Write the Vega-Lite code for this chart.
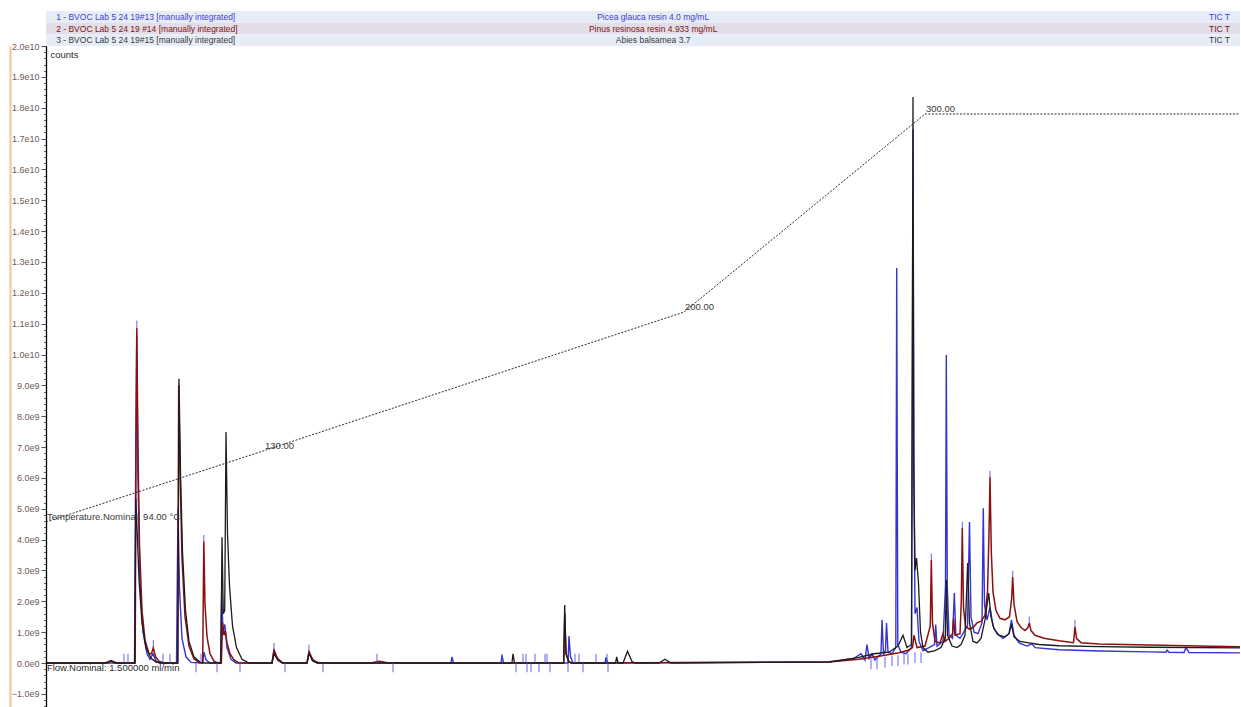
{
  "$schema": "https://vega.github.io/schema/vega-lite/v6.json",
  "autosize": {"type": "pad"},
  "padding": {"left": 10, "top": 11, "right": 0, "bottom": 0},
  "background": "white",
  "bounds": "flush",
  "spacing": 0,
  "config": {"view": {"stroke": null}, "font": "Liberation Sans"},
  "datasets": {
    "header": [
      {"row": 1, "run": "1 - BVOC Lab 5 24 19#13 [manually integrated]", "sample": "Picea glauca resin 4.0 mg/mL", "trace": "TIC T"},
      {"row": 2, "run": "2 - BVOC Lab 5 24 19 #14 [manually integrated]", "sample": "Pinus resinosa resin 4.933 mg/mL", "trace": "TIC T"},
      {"row": 3, "run": "3 - BVOC Lab 5 24 19#15 [manually integrated]", "sample": "Abies balsamea 3.7", "trace": "TIC T"}
    ],
    "picea": [
      {"t":0,"counts":0},{"t":2.367,"counts":0},{"t":2.95,"counts":0},{"t":2.983,"counts":5.5e9},{"t":3.023,"counts":10.6e9},{"t":3.067,"counts":6.0e9},{"t":3.133,"counts":2.6e9},{"t":3.233,"counts":1.0e9},{"t":3.367,"counts":0.3e9},{"t":3.467,"counts":0.12e9},{"t":3.567,"counts":0.3e9},{"t":3.667,"counts":0.06e9},{"t":3.8,"counts":0},
      {"t":4.35,"counts":0},{"t":4.4,"counts":5.0e9},{"t":4.45,"counts":2.4e9},{"t":4.533,"counts":0.8e9},{"t":4.667,"counts":0.2e9},{"t":4.833,"counts":0.02e9},
      {"t":5.217,"counts":0},{"t":5.267,"counts":0.35e9},{"t":5.333,"counts":0.1e9},{"t":5.467,"counts":0},
      {"t":5.817,"counts":0},{"t":5.857,"counts":2.27e9},{"t":5.9,"counts":1.0e9},{"t":5.96,"counts":1.25e9},{"t":6.033,"counts":0.5e9},{"t":6.167,"counts":0.12e9},{"t":6.333,"counts":0},
      {"t":7.533,"counts":0},{"t":7.6,"counts":0.45e9},{"t":7.7,"counts":0.15e9},{"t":7.867,"counts":0},
      {"t":8.7,"counts":0},{"t":8.767,"counts":0.4e9},{"t":8.867,"counts":0.1e9},{"t":9.033,"counts":0},
      {"t":13.5,"counts":0},{"t":13.533,"counts":0.2e9},{"t":13.583,"counts":0},
      {"t":15.167,"counts":0},{"t":15.2,"counts":0.25e9},{"t":15.25,"counts":0},
      {"t":17.4,"counts":0},{"t":17.433,"counts":0.87e9},{"t":17.483,"counts":0.2e9},{"t":17.567,"counts":0},
      {"t":18.633,"counts":0},{"t":18.667,"counts":0.18e9},{"t":18.717,"counts":0},
      {"t":26.1,"counts":0.04e9},{"t":26.933,"counts":0.15e9},{"t":27.167,"counts":0.3e9},{"t":27.3,"counts":0.1e9},{"t":27.367,"counts":0.6e9},{"t":27.433,"counts":0.15e9},{"t":27.533,"counts":0.3e9},{"t":27.633,"counts":0.1e9},
      {"t":27.833,"counts":0.3e9},{"t":27.867,"counts":1.4e9},{"t":27.917,"counts":0.3e9},{"t":27.983,"counts":0.4e9},{"t":28.017,"counts":1.3e9},{"t":28.067,"counts":0.35e9},{"t":28.2,"counts":0.3e9},
      {"t":28.327,"counts":0.5e9},{"t":28.357,"counts":12.8e9},{"t":28.393,"counts":0.6e9},{"t":28.5,"counts":0.35e9},{"t":28.667,"counts":0.3e9},
      {"t":28.85,"counts":0.5e9},{"t":28.877,"counts":9.0e9},{"t":28.9,"counts":17.3e9},{"t":28.927,"counts":7.0e9},{"t":28.967,"counts":1.6e9},{"t":29.033,"counts":1.8e9},{"t":29.1,"counts":0.7e9},{"t":29.233,"counts":0.4e9},
      {"t":29.433,"counts":0.5e9},{"t":29.617,"counts":0.6e9},{"t":29.657,"counts":1.25e9},{"t":29.7,"counts":0.55e9},{"t":29.9,"counts":0.7e9},
      {"t":29.983,"counts":2.5e9},{"t":30.01,"counts":9.98e9},{"t":30.043,"counts":2.5e9},{"t":30.1,"counts":0.9e9},{"t":30.217,"counts":0.8e9},{"t":30.277,"counts":2.27e9},{"t":30.327,"counts":0.9e9},{"t":30.467,"counts":0.8e9},
      {"t":30.717,"counts":1.2e9},{"t":30.783,"counts":4.57e9},{"t":30.833,"counts":1.5e9},{"t":30.933,"counts":1.0e9},{"t":31.067,"counts":0.95e9},{"t":31.2,"counts":1.3e9},{"t":31.243,"counts":5.02e9},{"t":31.283,"counts":1.9e9},
      {"t":31.367,"counts":1.4e9},{"t":31.467,"counts":1.8e9},{"t":31.567,"counts":1.2e9},{"t":31.7,"counts":0.95e9},{"t":31.9,"counts":0.8e9},{"t":32.1,"counts":0.95e9},{"t":32.183,"counts":1.4e9},{"t":32.267,"counts":0.9e9},
      {"t":32.433,"counts":0.65e9},{"t":32.7,"counts":0.55e9},{"t":32.867,"counts":0.62e9},{"t":32.967,"counts":0.5e9},{"t":33.767,"counts":0.43e9},{"t":35.1,"counts":0.39e9},{"t":36.767,"counts":0.36e9},
      {"t":37.333,"counts":0.35e9},{"t":37.367,"counts":0.42e9},{"t":37.433,"counts":0.35e9},{"t":37.933,"counts":0.34e9},{"t":38.0,"counts":0.5e9},{"t":38.1,"counts":0.34e9},{"t":39.8,"counts":0.33e9}
    ],
    "abies": [
      {"t":0,"counts":0},{"t":2.033,"counts":0},{"t":2.167,"counts":0.06e9},{"t":2.3,"counts":0},
      {"t":2.96,"counts":0},{"t":2.993,"counts":5.35e9},{"t":3.05,"counts":4.0e9},{"t":3.1,"counts":2.7e9},{"t":3.2,"counts":1.3e9},{"t":3.333,"counts":0.5e9},{"t":3.5,"counts":0.15e9},{"t":3.667,"counts":0.03e9},{"t":3.833,"counts":0},
      {"t":4.393,"counts":0},{"t":4.433,"counts":9.21e9},{"t":4.483,"counts":6.2e9},{"t":4.55,"counts":3.6e9},{"t":4.65,"counts":1.7e9},{"t":4.767,"counts":0.7e9},{"t":4.933,"counts":0.2e9},{"t":5.133,"counts":0.03e9},{"t":5.3,"counts":0},
      {"t":5.827,"counts":0},{"t":5.867,"counts":4.08e9},{"t":5.91,"counts":1.6e9},{"t":5.957,"counts":1.7e9},{"t":6.0,"counts":7.49e9},{"t":6.05,"counts":4.2e9},{"t":6.117,"counts":2.5e9},{"t":6.217,"counts":1.2e9},{"t":6.35,"counts":0.5e9},{"t":6.533,"counts":0.12e9},{"t":6.767,"counts":0},
      {"t":7.533,"counts":0},{"t":7.6,"counts":0.3e9},{"t":7.733,"counts":0.08e9},{"t":7.9,"counts":0},
      {"t":8.7,"counts":0},{"t":8.767,"counts":0.3e9},{"t":8.9,"counts":0.06e9},{"t":9.067,"counts":0},
      {"t":15.533,"counts":0},{"t":15.567,"counts":0.3e9},{"t":15.617,"counts":0},
      {"t":17.253,"counts":0},{"t":17.29,"counts":1.88e9},{"t":17.333,"counts":0.3e9},{"t":17.417,"counts":0.05e9},{"t":17.5,"counts":0},
      {"t":18.983,"counts":0},{"t":19.023,"counts":0.2e9},{"t":19.067,"counts":0},{"t":19.233,"counts":0},{"t":19.383,"counts":0.38e9},{"t":19.533,"counts":0.05e9},{"t":19.633,"counts":0},
      {"t":20.433,"counts":0},{"t":20.633,"counts":0.12e9},{"t":20.833,"counts":0},
      {"t":26.1,"counts":0.03e9},{"t":27.1,"counts":0.18e9},{"t":27.6,"counts":0.3e9},{"t":28.1,"counts":0.35e9},{"t":28.4,"counts":0.55e9},{"t":28.567,"counts":0.9e9},{"t":28.7,"counts":0.5e9},
      {"t":28.85,"counts":0.6e9},{"t":28.877,"counts":9.5e9},{"t":28.9,"counts":18.35e9},{"t":28.927,"counts":6.0e9},{"t":28.967,"counts":3.0e9},{"t":29.017,"counts":3.4e9},{"t":29.083,"counts":2.6e9},{"t":29.15,"counts":1.0e9},{"t":29.233,"counts":0.5e9},
      {"t":29.4,"counts":0.35e9},{"t":29.633,"counts":0.4e9},{"t":29.833,"counts":0.5e9},{"t":29.977,"counts":0.8e9},{"t":30.01,"counts":2.7e9},{"t":30.05,"counts":0.9e9},{"t":30.2,"counts":0.55e9},{"t":30.367,"counts":0.5e9},
      {"t":30.5,"counts":0.6e9},{"t":30.633,"counts":0.9e9},{"t":30.723,"counts":3.24e9},{"t":30.783,"counts":1.3e9},{"t":30.9,"counts":0.7e9},{"t":31.033,"counts":0.65e9},{"t":31.167,"counts":0.8e9},{"t":31.3,"counts":1.4e9},
      {"t":31.423,"counts":2.27e9},{"t":31.5,"counts":1.5e9},{"t":31.6,"counts":1.1e9},{"t":31.767,"counts":0.9e9},{"t":31.967,"counts":0.85e9},{"t":32.1,"counts":0.95e9},{"t":32.183,"counts":1.25e9},{"t":32.267,"counts":0.85e9},
      {"t":32.467,"counts":0.7e9},{"t":32.767,"counts":0.65e9},{"t":33.1,"counts":0.6e9},{"t":33.767,"counts":0.56e9},{"t":35.1,"counts":0.53e9},{"t":36.767,"counts":0.51e9},{"t":39.8,"counts":0.49e9}
    ],
    "pinus": [
      {"t":0,"counts":0},{"t":1.967,"counts":0},{"t":2.167,"counts":0.08e9},{"t":2.367,"counts":0},
      {"t":2.973,"counts":0},{"t":3.0,"counts":7.0e9},{"t":3.027,"counts":10.86e9},{"t":3.067,"counts":6.8e9},{"t":3.117,"counts":3.8e9},{"t":3.2,"counts":1.7e9},{"t":3.3,"counts":0.75e9},{"t":3.433,"counts":0.3e9},{"t":3.517,"counts":0.3e9},{"t":3.577,"counts":0.5e9},{"t":3.65,"counts":0.2e9},{"t":3.767,"counts":0.06e9},{"t":3.933,"counts":0},
      {"t":4.39,"counts":0},{"t":4.423,"counts":9.0e9},{"t":4.473,"counts":6.0e9},{"t":4.533,"counts":3.4e9},{"t":4.633,"counts":1.5e9},{"t":4.767,"counts":0.55e9},{"t":4.933,"counts":0.13e9},{"t":5.133,"counts":0},
      {"t":5.223,"counts":0},{"t":5.26,"counts":3.95e9},{"t":5.3,"counts":1.9e9},{"t":5.367,"counts":0.85e9},{"t":5.467,"counts":0.3e9},{"t":5.6,"counts":0.06e9},{"t":5.733,"counts":0},
      {"t":5.843,"counts":0},{"t":5.887,"counts":1.3e9},{"t":5.933,"counts":0.9e9},{"t":5.977,"counts":1.05e9},{"t":6.033,"counts":0.65e9},{"t":6.133,"counts":0.3e9},{"t":6.267,"counts":0.1e9},{"t":6.433,"counts":0},
      {"t":7.533,"counts":0},{"t":7.6,"counts":0.4e9},{"t":7.717,"counts":0.15e9},{"t":7.9,"counts":0},
      {"t":8.7,"counts":0},{"t":8.767,"counts":0.35e9},{"t":8.9,"counts":0.1e9},{"t":9.1,"counts":0},
      {"t":10.833,"counts":0},{"t":11.1,"counts":0.06e9},{"t":11.433,"counts":0},
      {"t":17.26,"counts":0},{"t":17.293,"counts":1.6e9},{"t":17.333,"counts":0.3e9},{"t":17.433,"counts":0.04e9},{"t":17.533,"counts":0},
      {"t":26.1,"counts":0.03e9},{"t":27.1,"counts":0.12e9},{"t":27.767,"counts":0.22e9},{"t":28.433,"counts":0.33e9},{"t":28.767,"counts":0.42e9},{"t":28.883,"counts":0.5e9},{"t":28.933,"counts":0.9e9},{"t":29.033,"counts":0.5e9},{"t":29.3,"counts":0.55e9},
      {"t":29.477,"counts":1.2e9},{"t":29.51,"counts":3.34e9},{"t":29.55,"counts":1.3e9},{"t":29.633,"counts":0.7e9},{"t":29.8,"counts":0.65e9},{"t":29.9,"counts":0.95e9},{"t":29.967,"counts":0.7e9},{"t":30.1,"counts":0.8e9},
      {"t":30.217,"counts":0.95e9},{"t":30.253,"counts":1.45e9},{"t":30.3,"counts":0.9e9},{"t":30.467,"counts":0.95e9},{"t":30.51,"counts":2.0e9},{"t":30.543,"counts":4.38e9},{"t":30.583,"counts":1.8e9},{"t":30.65,"counts":1.2e9},
      {"t":30.767,"counts":1.1e9},{"t":30.9,"counts":1.15e9},{"t":31.033,"counts":1.3e9},{"t":31.167,"counts":1.35e9},{"t":31.3,"counts":1.55e9},{"t":31.383,"counts":2.3e9},{"t":31.433,"counts":4.2e9},{"t":31.467,"counts":6.03e9},
      {"t":31.51,"counts":3.6e9},{"t":31.567,"counts":2.3e9},{"t":31.667,"counts":1.7e9},{"t":31.8,"counts":1.45e9},{"t":31.967,"counts":1.4e9},{"t":32.117,"counts":1.5e9},{"t":32.19,"counts":2.1e9},{"t":32.223,"counts":2.79e9},
      {"t":32.267,"counts":1.9e9},{"t":32.367,"counts":1.35e9},{"t":32.5,"counts":1.15e9},{"t":32.633,"counts":1.05e9},{"t":32.733,"counts":1.15e9},{"t":32.777,"counts":1.3e9},{"t":32.833,"counts":1.05e9},{"t":32.967,"counts":0.9e9},
      {"t":33.267,"counts":0.8e9},{"t":33.767,"counts":0.72e9},{"t":34.25,"counts":0.66e9},{"t":34.3,"counts":1.17e9},{"t":34.35,"counts":0.8e9},{"t":34.5,"counts":0.66e9},{"t":35.1,"counts":0.62e9},{"t":36.767,"counts":0.58e9},{"t":38.433,"counts":0.55e9},{"t":39.8,"counts":0.53e9}
    ],
    "markers": [
      {"t":5.0,"lo":-0.3e9,"hi":0},{"t":5.7,"lo":-0.3e9,"hi":0},{"t":6.467,"lo":-0.3e9,"hi":0},{"t":7.967,"lo":-0.3e9,"hi":0},{"t":9.233,"lo":-0.3e9,"hi":0},{"t":11.567,"lo":-0.3e9,"hi":0},
      {"t":15.667,"lo":-0.3e9,"hi":0},{"t":16.033,"lo":-0.3e9,"hi":0},{"t":16.167,"lo":-0.3e9,"hi":0},{"t":16.433,"lo":-0.3e9,"hi":0},{"t":16.8,"lo":-0.3e9,"hi":0},{"t":17.4,"lo":-0.3e9,"hi":0},{"t":17.9,"lo":-0.3e9,"hi":0},{"t":18.733,"lo":-0.3e9,"hi":0},
      {"t":27.5,"lo":-0.2e9,"hi":0.15e9},{"t":27.7,"lo":-0.2e9,"hi":0.15e9},{"t":27.967,"lo":-0.15e9,"hi":0.2e9},{"t":28.2,"lo":-0.1e9,"hi":0.25e9},{"t":28.4,"lo":-0.1e9,"hi":0.25e9},{"t":28.6,"lo":-0.05e9,"hi":0.3e9},{"t":28.733,"lo":-0.05e9,"hi":0.3e9},{"t":28.967,"lo":0,"hi":0.35e9},{"t":29.167,"lo":0,"hi":0.35e9},
      {"t":2.6,"lo":0,"hi":0.3e9},{"t":2.733,"lo":0,"hi":0.3e9},{"t":3.9,"lo":0,"hi":0.3e9},{"t":4.133,"lo":0,"hi":0.3e9},{"t":5.167,"lo":0,"hi":0.3e9},{"t":11.033,"lo":0,"hi":0.3e9},
      {"t":15.2,"lo":0,"hi":0.3e9},{"t":15.9,"lo":0,"hi":0.3e9},{"t":16.0,"lo":0,"hi":0.3e9},{"t":16.3,"lo":0,"hi":0.3e9},{"t":16.633,"lo":0,"hi":0.3e9},{"t":16.7,"lo":0,"hi":0.3e9},{"t":17.633,"lo":0,"hi":0.3e9},{"t":17.767,"lo":0,"hi":0.3e9},{"t":18.333,"lo":0,"hi":0.3e9},{"t":18.7,"lo":0,"hi":0.3e9},
      {"t":3.027,"lo":10.86e9,"hi":11.1e9},{"t":3.577,"lo":0.5e9,"hi":0.75e9},{"t":5.26,"lo":3.95e9,"hi":4.15e9},{"t":7.6,"lo":0.45e9,"hi":0.65e9},{"t":8.767,"lo":0.4e9,"hi":0.6e9},
      {"t":29.51,"lo":3.34e9,"hi":3.55e9},{"t":30.543,"lo":4.38e9,"hi":4.58e9},{"t":31.467,"lo":6.03e9,"hi":6.23e9},{"t":32.223,"lo":2.79e9,"hi":2.99e9},{"t":32.777,"lo":1.3e9,"hi":1.5e9},{"t":34.3,"lo":1.17e9,"hi":1.4e9}
    ],
    "notes": [
      {"t":0.15,"counts":19.71e9,"text":"counts"},
      {"t":0.03,"counts":-0.16e9,"text":"Flow.Nominal: 1.500000 ml/min"}
    ],
    "program": [
      {"t":0,"temp":94,"label":"Temperature.Nominal: 94.00 °C"},
      {"t":7.267,"temp":130,"label":"130.00"},
      {"t":21.267,"temp":200,"label":"200.00"},
      {"t":29.3,"temp":300,"label":"300.00"},
      {"t":39.8,"temp":300,"label":""}
    ]
  },
  "vconcat": [
    {
      "width": 1194,
      "height": 35,
      "data": {"name": "header"},
      "encoding": {
        "y": {"field": "row", "type": "ordinal", "axis": null, "scale": {"paddingInner": 0, "paddingOuter": 0}}
      },
      "layer": [
        {
          "mark": {"type": "rect"},
          "encoding": {
            "x": {"datum": 0, "type": "quantitative", "scale": {"domain": [0, 1], "nice": false}, "axis": null},
            "x2": {"datum": 1},
            "color": {"condition": {"test": "datum.row == 2", "value": "#e2dde6"}, "value": "#e6edf8"}
          }
        },
        {
          "mark": {"type": "text", "align": "left", "baseline": "middle", "fontSize": 8.5},
          "encoding": {
            "x": {"datum": 0.0085, "type": "quantitative"},
            "text": {"field": "run"},
            "color": {"condition": [{"test": "datum.row == 1", "value": "#3d3dd8"}, {"test": "datum.row == 2", "value": "#7e1414"}], "value": "#3a3a3a"},
            "fontWeight": {"condition": {"test": "datum.row == 2", "value": "bold"}, "value": "normal"}
          }
        },
        {
          "mark": {"type": "text", "align": "center", "baseline": "middle", "fontSize": 8.5},
          "encoding": {
            "x": {"datum": 0.5085, "type": "quantitative"},
            "text": {"field": "sample"},
            "color": {"condition": [{"test": "datum.row == 1", "value": "#3d3dd8"}, {"test": "datum.row == 2", "value": "#7e1414"}], "value": "#3a3a3a"},
            "fontWeight": {"condition": {"test": "datum.row == 2", "value": "bold"}, "value": "normal"}
          }
        },
        {
          "mark": {"type": "text", "align": "left", "baseline": "middle", "fontSize": 8.5},
          "encoding": {
            "x": {"datum": 0.974, "type": "quantitative"},
            "text": {"field": "trace"},
            "color": {"condition": [{"test": "datum.row == 1", "value": "#3d3dd8"}, {"test": "datum.row == 2", "value": "#7e1414"}], "value": "#3a3a3a"}
          }
        }
      ]
    },
    {
      "width": 1194,
      "height": 661,
      "layer": [
        {
          "layer": [
            {
              "data": {"name": "picea"},
              "mark": {"type": "line", "color": "#3434d4", "strokeWidth": 1.4},
              "encoding": {
                "x": {"field": "t", "type": "quantitative", "scale": {"domain": [0, 39.8], "nice": false, "zero": false},
                      "axis": {"orient": "top", "labels": false, "ticks": false, "title": null, "grid": false, "domainColor": "#9a9a9a", "domainWidth": 1}},
                "y": {"field": "counts", "type": "quantitative", "scale": {"domain": [-1.426e9, 2.0e10], "nice": false, "zero": false},
                      "axis": {"orient": "left", "values": [-1e9, 0, 1e9, 2e9, 3e9, 4e9, 5e9, 6e9, 7e9, 8e9, 9e9, 10e9, 11e9, 12e9, 13e9, 14e9, 15e9, 16e9, 17e9, 18e9, 19e9, 20e9],
                               "labelExpr": "replace(format(datum.value, '.1e'), '+', '')",
                               "title": null, "grid": false, "tickSize": 5, "tickColor": "#555555", "domainColor": "#000000", "domainWidth": 1.3,
                               "labelColor": "#6e5a5a", "labelFont": "Liberation Sans", "labelFontSize": 9, "labelPadding": 2, "labelFlush": false, "labelOverlap": false, "zindex": 1}}
              }
            },
            {
              "data": {"name": "pinus"},
              "mark": {"type": "line", "color": "#8c1010", "strokeWidth": 1.5},
              "encoding": {
                "x": {"field": "t", "type": "quantitative", "axis": null},
                "y": {"field": "counts", "type": "quantitative",
                      "axis": {"orient": "left", "offset": 36, "labels": false, "ticks": false, "title": null, "grid": false, "domainColor": "#f0c49c", "domainWidth": 2}}
              }
            },
            {
              "data": {"name": "abies"},
              "mark": {"type": "line", "color": "#1c1c1c", "strokeWidth": 1.3},
              "encoding": {
                "x": {"field": "t", "type": "quantitative", "axis": null},
                "y": {"field": "counts", "type": "quantitative",
                      "axis": {"orient": "left", "tickCount": 107, "labels": false, "domain": false, "title": null, "grid": false, "tickSize": 2.5, "tickColor": "#666666"}}
              }
            },
            {
              "data": {"name": "markers"},
              "mark": {"type": "rule", "color": "#4a4ae6", "strokeWidth": 1, "opacity": 0.85},
              "encoding": {
                "x": {"field": "t", "type": "quantitative", "axis": null},
                "y": {"field": "lo", "type": "quantitative", "axis": null},
                "y2": {"field": "hi"}
              }
            },
            {
              "data": {"name": "notes"},
              "mark": {"type": "text", "align": "left", "baseline": "middle", "fontSize": 9.5, "color": "#2a2a2a"},
              "encoding": {
                "x": {"field": "t", "type": "quantitative", "axis": null},
                "y": {"field": "counts", "type": "quantitative", "axis": null},
                "text": {"field": "text"}
              }
            }
          ],
          "resolve": {"axis": {"y": "independent"}}
        },
        {
          "data": {"name": "program"},
          "encoding": {
            "x": {"field": "t", "type": "quantitative", "axis": null},
            "y": {"field": "temp", "type": "quantitative", "scale": {"domain": [0.593, 334.33], "nice": false, "zero": false}, "axis": null}
          },
          "layer": [
            {"mark": {"type": "line", "color": "#2a2a2a", "strokeWidth": 1, "strokeDash": [2, 1.5]}},
            {"mark": {"type": "text", "align": "left", "baseline": "middle", "dx": 1, "dy": -5, "fontSize": 9.5, "color": "#3a3a3a"},
             "encoding": {"text": {"field": "label"}}}
          ]
        }
      ],
      "resolve": {"scale": {"y": "independent"}}
    }
  ]
}
